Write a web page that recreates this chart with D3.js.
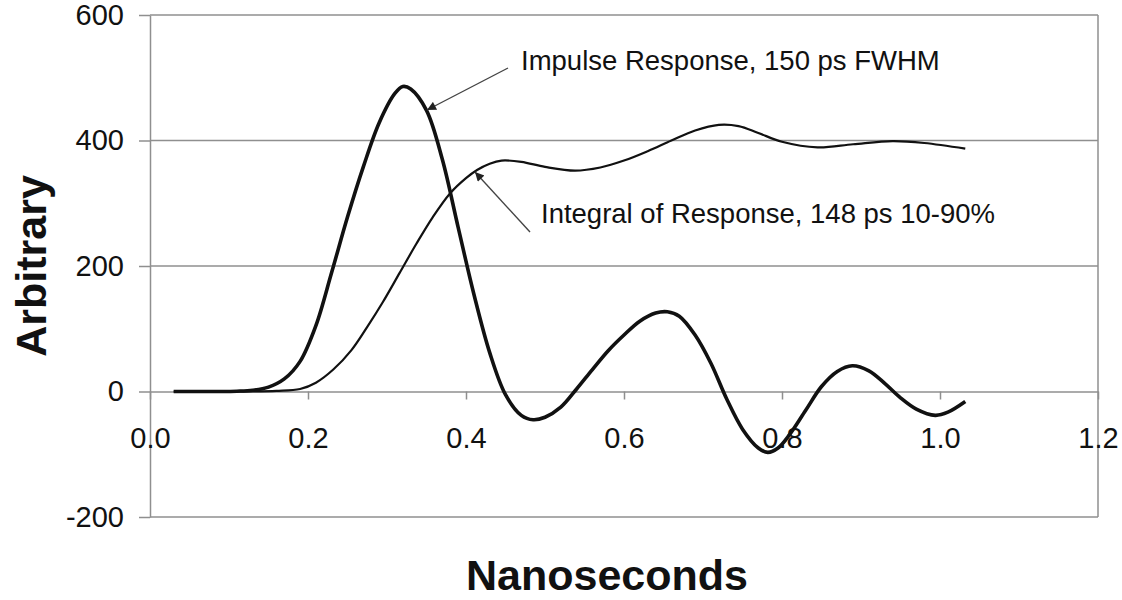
<!DOCTYPE html>
<html>
<head>
<meta charset="utf-8">
<script src="https://cdn.jsdelivr.net/npm/d3@7"></script>
<style>
  body { margin: 0; background: #fff; }
  text { font-family: "Liberation Sans", Arial, sans-serif; fill: #111; }
  .grid line { stroke: #8f8f8f; stroke-width: 1.5; }
  .axis path, .axis line { stroke: #8f8f8f; stroke-width: 1.5; }
  .axis text { font-size: 29px; }
  .axisTitle { font-size: 43px; font-weight: bold; }
  .note { font-size: 27.5px; }
</style>
</head>
<body>
<div id="chart"></div>
<script>

//- Chart data
const impulseX = [0.03, 0.06, 0.09, 0.11, 0.13, 0.15, 0.17, 0.19, 0.21, 0.23, 0.25, 0.27, 0.29, 0.31, 0.32, 0.33, 0.35, 0.37, 0.39, 0.41, 0.43, 0.45, 0.47, 0.485, 0.50, 0.52, 0.54, 0.56, 0.58, 0.60, 0.62, 0.64, 0.655, 0.67, 0.69, 0.71, 0.73, 0.75, 0.77, 0.782, 0.795, 0.81, 0.83, 0.85, 0.87, 0.889, 0.91, 0.93, 0.95, 0.97, 0.994, 1.01, 1.032];
const impulseY = [0, 0, 0, 0.5, 2, 7, 20, 48, 105, 190, 278, 358, 428, 475, 486, 482, 448, 370, 262, 155, 62, -5, -38, -45, -41, -25, 4, 35, 65, 90, 112, 125, 127, 120, 90, 45, -12, -60, -90, -97, -90, -68, -30, 8, 32, 41, 33, 13, -10, -28, -38, -33, -16];

const integralX = [0.03, 0.13, 0.16, 0.19, 0.21, 0.232, 0.255, 0.275, 0.295, 0.316, 0.337, 0.358, 0.38, 0.40, 0.414, 0.43, 0.445, 0.47, 0.50, 0.538, 0.57, 0.60, 0.63, 0.66, 0.69, 0.72, 0.745, 0.77, 0.80, 0.845, 0.89, 0.94, 0.98, 1.032];
const integralY = [0, 0, 1, 4, 14, 35, 66, 103, 143, 189, 235, 278, 316, 340, 353, 363, 368, 366, 358, 352, 357, 368, 383, 400, 416, 425, 423, 412, 398, 389, 394, 399, 396, 387];

const xTicks = [0.0, 0.2, 0.4, 0.6, 0.8, 1.0, 1.2];
const yTicks = [-200, 0, 200, 400, 600];

const xTitle = "Nanoseconds";
const yTitle = "Arbitrary";
const impulseNote = "Impulse Response, 150 ps FWHM";
const integralNote = "Integral of Response, 148 ps 10-90%";


//- Layout
const width = 1122, height = 600;
const plot = { left: 150, right: 1098, top: 15, bottom: 517 };

const svg = d3.select("#chart").append("svg")
    .attr("width", width)
    .attr("height", height);

const xScale = d3.scaleLinear().domain([0, 1.2]).range([plot.left, plot.right]);
const yScale = d3.scaleLinear().domain([-200, 600]).range([plot.bottom, plot.top]);


//-- Grid (horizontal lines + right border)
const grid = svg.append("g").attr("class", "grid");

grid.selectAll("line.h")
    .data(yTicks.filter(d => d !== 0))
    .enter().append("line")
    .attr("class", "h")
    .attr("x1", plot.left).attr("x2", plot.right)
    .attr("y1", d => yScale(d)).attr("y2", d => yScale(d));

grid.append("line")
    .attr("x1", plot.right).attr("x2", plot.right)
    .attr("y1", plot.top).attr("y2", plot.bottom);


//-- Axes
const yAxis = d3.axisLeft(yScale)
    .tickValues(yTicks)
    .tickFormat(d => String(d))     // plain hyphen for negatives, like the original
    .tickSize(11)
    .tickPadding(15)
    .tickSizeOuter(0);

svg.append("g")
    .attr("class", "axis")
    .attr("transform", `translate(${plot.left},0)`)
    .call(yAxis);

const xAxis = d3.axisBottom(xScale)
    .tickValues(xTicks)
    .tickFormat(d3.format(".1f"))
    .tickSize(8)
    .tickPadding(28)
    .tickSizeOuter(0);

svg.append("g")
    .attr("class", "axis")
    .attr("transform", `translate(0,${yScale(0)})`)
    .call(xAxis);


//-- Curves
const impulseData = impulseX.map((x, i) => ({ x: x, y: impulseY[i] }));
const integralData = integralX.map((x, i) => ({ x: x, y: integralY[i] }));

const line = d3.line()
    .x(d => xScale(d.x))
    .y(d => yScale(d.y))
    .curve(d3.curveCatmullRom.alpha(0.5));

svg.append("path")
    .datum(integralData)
    .attr("fill", "none")
    .attr("stroke", "#111")
    .attr("stroke-width", 2.2)
    .attr("d", line);

svg.append("path")
    .datum(impulseData)
    .attr("fill", "none")
    .attr("stroke", "#111")
    .attr("stroke-width", 3.6)
    .attr("d", line);


//-- Annotations with arrows
svg.append("defs").append("marker")
    .attr("id", "arrow")
    .attr("viewBox", "0 0 10 10")
    .attr("refX", 10).attr("refY", 5)
    .attr("markerWidth", 12).attr("markerHeight", 9)
    .attr("markerUnits", "userSpaceOnUse")
    .attr("orient", "auto")
    .append("path")
    .attr("d", "M0,0 L10,5 L0,10 z")
    .attr("fill", "#222");

svg.append("line")
    .attr("x1", 508).attr("y1", 68)
    .attr("x2", 427).attr("y2", 110)
    .attr("stroke", "#444").attr("stroke-width", 1.4)
    .attr("marker-end", "url(#arrow)");

svg.append("line")
    .attr("x1", 530).attr("y1", 232)
    .attr("x2", 475).attr("y2", 172)
    .attr("stroke", "#444").attr("stroke-width", 1.4)
    .attr("marker-end", "url(#arrow)");

svg.append("text")
    .attr("class", "note")
    .attr("x", 521).attr("y", 70)
    .text(impulseNote);

svg.append("text")
    .attr("class", "note")
    .attr("x", 541).attr("y", 223)
    .text(integralNote);


//-- Axis titles
svg.append("text")
    .attr("class", "axisTitle")
    .attr("x", 607).attr("y", 590)
    .attr("text-anchor", "middle")
    .text(xTitle);

svg.append("text")
    .attr("class", "axisTitle")
    .attr("transform", `translate(46, ${(plot.top + plot.bottom) / 2}) rotate(-90)`)
    .attr("text-anchor", "middle")
    .text(yTitle);

</script>
</body>
</html>
